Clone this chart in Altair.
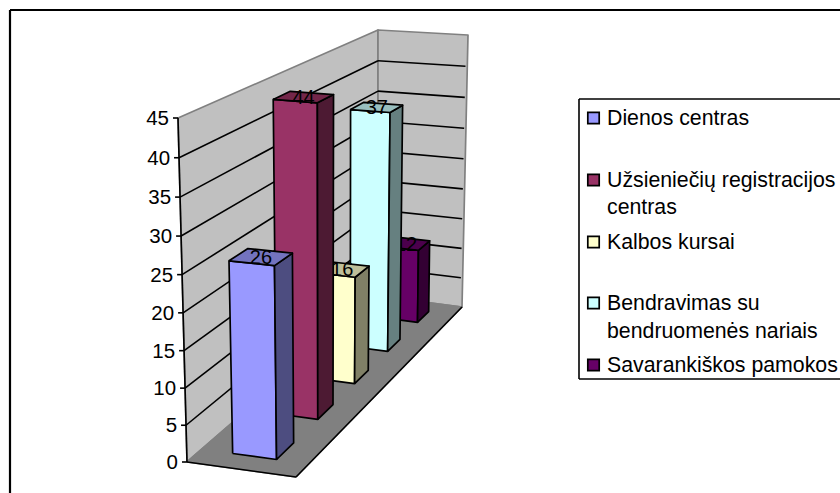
import altair as alt
import numpy as np
import pandas as pd

# Series shown in the chart
SERIES = ["Dienos centras", "Užsieniečių registracijos centras", "Kalbos kursai",
          "Bendravimas su bendruomenės nariais", "Savarankiškos pamokos"]
VALUES = [26, 44, 16, 37, 12]
FRONT_COLORS = ["#9999FF", "#993366", "#FFFFCC", "#CCFFFF", "#660066"]
SIDE_COLORS = ["#4D4D80", "#4D1A33", "#808066", "#668080", "#330033"]
TOP_COLORS = ["#7373BF", "#732649", "#BFBF99", "#99BFBF", "#4C004C"]
AXIS_TICKS = [0, 5, 10, 15, 20, 25, 30, 35, 40, 45]
LEGEND_ROWS = [[("Dienos centras", 118)],
               [("Užsieniečių registracijos", 180), ("centras", 207)],
               [("Kalbos kursai", 242)],
               [("Bendravimas su", 303), ("bendruomenės nariais", 331)],
               [("Savarankiškos pamokos", 365)]]

FONT = "Liberation Sans"
MAX_VALUE = 45
W, H = 840, 493

# Corners of the 3D box on screen: front-left, front-right, back-right, back-left
FLOOR = [(187, 462), (296, 477), (462, 307), (378, 296)]
CEIL = [(178, 118), (294, 128), (468, 35), (378, 30)]
# Foreshortening of the vertical axis: the upper part of the box sits closer to the camera
HEIGHT_PERSPECTIVE = 0.045


def homography(q):
    src = [(0, 0), (1, 0), (1, 1), (0, 1)]
    a, b = [], []
    for (u, v), (x, y) in zip(src, q):
        a.append([u, v, 1, 0, 0, 0, -u * x, -v * x])
        a.append([0, 0, 0, u, v, 1, -u * y, -v * y])
        b += [x, y]
    return np.append(np.linalg.solve(np.array(a, float), np.array(b, float)), 1).reshape(3, 3)


HF, HC = homography(FLOOR), homography(CEIL)


def project(u, v, value):
    """u runs across the box, v runs front to back, value is height on the value axis."""
    pf = HF @ [u, v, 1]
    pc = HC @ [u, v, 1]
    pf, pc = pf[:2] / pf[2], pc[:2] / pc[2]
    t = value / MAX_VALUE
    p = pf + (pc - pf) * t / (1 + HEIGHT_PERSPECTIVE * (1 - t))
    return float(p[0]), float(p[1])


X = alt.X("x:Q", scale=alt.Scale(domain=[0, W], nice=False, zero=False), axis=None)
Y = alt.Y("y:Q", scale=alt.Scale(domain=[H, 0], nice=False, zero=False), axis=None)


def polygons(shapes, stroke_width=1.7):
    """shapes: list of (points, fill, stroke); closed outlines drawn with a filled line mark."""
    rows = []
    for sid, (pts, fill, stroke) in enumerate(shapes):
        for k, (x, y) in enumerate(list(pts) + [pts[0]]):
            rows.append({"x": x, "y": y, "k": k, "sid": sid, "fill": fill, "stroke": stroke})
    return alt.Chart(pd.DataFrame(rows)).mark_line(
        strokeWidth=stroke_width, strokeJoin="round", interpolate="linear"
    ).encode(X, Y, order="k:Q", detail="sid:N",
             fill=alt.Fill("fill:N", scale=None), stroke=alt.Stroke("stroke:N", scale=None))


def lines(segments, color="#000000", width=1.6):
    rows = []
    for sid, (a, b) in enumerate(segments):
        rows += [{"x": a[0], "y": a[1], "k": 0, "sid": sid}, {"x": b[0], "y": b[1], "k": 1, "sid": sid}]
    return alt.Chart(pd.DataFrame(rows)).mark_line(strokeWidth=width, color=color).encode(
        X, Y, order="k:Q", detail="sid:N")


def texts(rows, align="center", size=20):
    return alt.Chart(pd.DataFrame(rows)).mark_text(
        font=FONT, fontSize=size, color="#000000", align=align, baseline="middle", dy=1
    ).encode(X, Y, text="t:N")


layers = []

# Box walls and floor
layers.append(polygons([
    ([project(0, 0, 0), project(0, 0, MAX_VALUE), project(0, 1, MAX_VALUE), project(0, 1, 0)], "#C0C0C0", "#808080"),
    ([project(0, 1, 0), project(0, 1, MAX_VALUE), project(1, 1, MAX_VALUE), project(1, 1, 0)], "#C0C0C0", "#808080"),
    ([project(0, 0, 0), project(1, 0, 0), project(1, 1, 0), project(0, 1, 0)], "#808080", "#808080"),
]))

# Gridlines on both walls
grid = []
for t in AXIS_TICKS[1:-1]:
    grid.append((project(0, 0, t), project(0, 1, t)))
    grid.append((project(0, 1, t), project(0.98, 1, t)))
layers.append(lines(grid))

# Value axis, ticks and front floor edges
axis = [(project(0, 0, 0), project(0, 0, MAX_VALUE)),
        (project(0, 0, 0), project(1, 0, 0)),
        (project(1, 0, 0), project(1, 1, 0))]
for t in AXIS_TICKS:
    p = project(0, 0, t)
    axis.append(((p[0] - 5, p[1]), p))
layers.append(lines(axis))
layers.append(texts([{"x": project(0, 0, t)[0] - 9, "y": project(0, 0, t)[1], "t": str(t)} for t in AXIS_TICKS],
                    align="right", size=20.5))

# Bars, back to front, so nearer bars overlap farther labels
U0, U1 = 0.29, 0.70
SLOT, DEPTH = 1 / len(VALUES), 0.08
for i in reversed(range(len(VALUES))):
    val = VALUES[i]
    vc = (i + 0.5) * SLOT
    v0, v1 = vc - DEPTH / 2, vc + DEPTH / 2
    front = [project(U0, v0, 0), project(U1, v0, 0), project(U1, v0, val), project(U0, v0, val)]
    side = [project(U1, v0, 0), project(U1, v1, 0), project(U1, v1, val), project(U1, v0, val)]
    top = [project(U0, v0, val), project(U1, v0, val), project(U1, v1, val), project(U0, v1, val)]
    layers.append(polygons([(front, FRONT_COLORS[i], "#000000"),
                            (side, SIDE_COLORS[i], "#000000"),
                            (top, TOP_COLORS[i], "#000000")]))
    cx, cy = project((U0 + U1) / 2, vc, val)
    layers.append(texts([{"x": cx, "y": cy, "t": str(val)}]))

# Legend box
layers.append(lines([((579, 99), (W, 99)), ((579, 99), (579, 379)), ((579, 379), (W, 379))]))
swatches = pd.DataFrame([{"x": 593.5, "y": rows[0][1], "c": c} for rows, c in zip(LEGEND_ROWS, FRONT_COLORS)])
layers.append(alt.Chart(swatches).mark_square(size=130, stroke="#000000", strokeWidth=1.7, opacity=1).encode(
    X, Y, fill=alt.Fill("c:N", scale=None)))
layers.append(texts([{"x": 607, "y": y, "t": t} for rows in LEGEND_ROWS for t, y in rows],
                    align="left", size=21.3))

# Chart area frame
layers.append(lines([((10, 10), (W, 10)), ((10, 10), (10, H))], width=2.2))

chart = alt.layer(*layers).properties(
    width=W, height=H, padding=0, autosize=alt.AutoSizeParams(type="none"), background="#FFFFFF"
).configure_view(stroke=None)

chart.save("out.html", embed_options={"renderer": "svg", "actions": False})
